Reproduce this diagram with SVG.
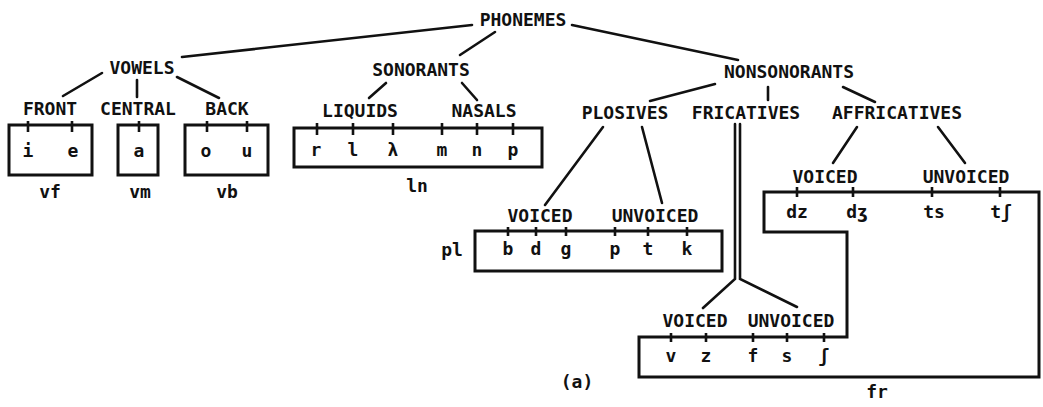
<svg xmlns="http://www.w3.org/2000/svg" width="1043" height="407" viewBox="0 0 1043 407">
<style>
text{font-family:"DejaVu Sans Mono","Liberation Mono",monospace;font-weight:bold;font-size:18px;fill:#111;text-anchor:middle}
.ln{stroke:#111;stroke-width:2.6;fill:none;stroke-linecap:round}
.box{stroke:#111;stroke-width:3;fill:none;stroke-linejoin:miter}
.tk{stroke:#111;stroke-width:2.6}
</style>
<rect width="1043" height="407" fill="#fff"/>
<g id="connectors">
<path class="ln" d="M182,57 L472,25"/>
<path class="ln" d="M495,32 L460,55"/>
<path class="ln" d="M572,25 L738,60"/>
<path class="ln" d="M102,73 L63,96"/>
<path class="ln" d="M137,80 L137,97"/>
<path class="ln" d="M177,77 L219,98"/>
<path class="ln" d="M386,83 L369,98"/>
<path class="ln" d="M462,83 L477,100"/>
<path class="ln" d="M715,84 L650,101"/>
<path class="ln" d="M768,87 L768,100"/>
<path class="ln" d="M843,87 L875,102"/>
<path class="ln" d="M603,127 L545,205"/>
<path class="ln" d="M642,127 L662,203"/>
<path class="ln" d="M857,127 L833,163"/>
<path class="ln" d="M938,127 L965,163"/>
<path class="ln" d="M735,124 L735,279 L703,308"/>
<path class="ln" d="M740,124 L740,279 L797,307"/>
</g>
<g id="phonemes"><text x="523" y="26">PHONEMES</text></g>
<g id="vowels"><text x="142" y="74">VOWELS</text></g>
<g id="sonorants"><text x="421" y="76">SONORANTS</text></g>
<g id="nonsonorants"><text x="789" y="78">NONSONORANTS</text></g>
<g id="front"><text x="50" y="115">FRONT</text></g>
<g id="central"><text x="138" y="115">CENTRAL</text></g>
<g id="back"><text x="227" y="115">BACK</text></g>
<g id="liquids"><text x="360" y="117">LIQUIDS</text></g>
<g id="nasals"><text x="484" y="117">NASALS</text></g>
<g id="plosives"><text x="625" y="119">PLOSIVES</text></g>
<g id="fricatives"><text x="746" y="119">FRICATIVES</text></g>
<g id="affricatives"><text x="897" y="119">AFFRICATIVES</text></g>
<g id="vf">
<rect class="box" x="9" y="125" width="83" height="50"/>
<path class="tk" d="M28,121V132M72,121V132"/>
<text x="28" y="157">i</text><text x="73" y="157">e</text>
<text x="50" y="198">vf</text>
</g>
<g id="vm">
<rect class="box" x="118" y="125" width="40" height="50"/>
<path class="tk" d="M139,121V132"/>
<text x="139" y="157">a</text>
<text x="140" y="198">vm</text>
</g>
<g id="vb">
<rect class="box" x="185" y="125" width="83" height="50"/>
<path class="tk" d="M207,121V132M247,121V132"/>
<text x="206" y="157">o</text><text x="247" y="157">u</text>
<text x="227" y="198">vb</text>
</g>
<g id="ln">
<rect class="box" x="294" y="128" width="248" height="39"/>
<path class="tk" d="M317,123V135M353,123V135M393,123V135M442,123V135M477,123V135M513,123V135"/>
<text x="316" y="156">r</text><text x="353" y="156">l</text><text x="393" y="156">λ</text><text x="442" y="156">m</text><text x="477" y="156">n</text><text x="513" y="156">p</text>
<text x="417" y="192">ln</text>
</g>
<g id="pl">
<text x="540" y="222">VOICED</text>
<text x="655" y="222">UNVOICED</text>
<rect class="box" x="475" y="231" width="247" height="40"/>
<path class="tk" d="M508,227V236M536,227V236M566,227V236M615,227V236M648,227V236M687,227V236"/>
<text x="508" y="255">b</text><text x="536" y="255">d</text><text x="566" y="255">g</text><text x="615" y="255">p</text><text x="648" y="255">t</text><text x="687" y="255">k</text>
<text x="452" y="256">pl</text>
</g>
<g id="fr">
<text x="825" y="183">VOICED</text>
<text x="966" y="183">UNVOICED</text>
<text x="695" y="327">VOICED</text>
<text x="791" y="327">UNVOICED</text>
<polygon class="box" points="764,192 1039,192 1039,377 639,377 639,337 847,337 847,232 764,232"/>
<path class="tk" d="M797,187V197M853,187V197M932,187V197M1000,187V197"/>
<path class="tk" d="M671,333V342M706,333V342M753,333V342M787,333V342M824,333V342"/>
<text x="797" y="218">dz</text><text x="857" y="218">dʒ</text><text x="934" y="218">ts</text><text x="1001" y="218">tʃ</text>
<text x="671" y="362">v</text><text x="706" y="362">z</text><text x="753" y="362">f</text><text x="787" y="362">s</text><text x="824" y="362">ʃ</text>
<text x="877" y="398">fr</text>
</g>
<g id="caption"><text x="577" y="388">(a)</text></g>
</svg>
